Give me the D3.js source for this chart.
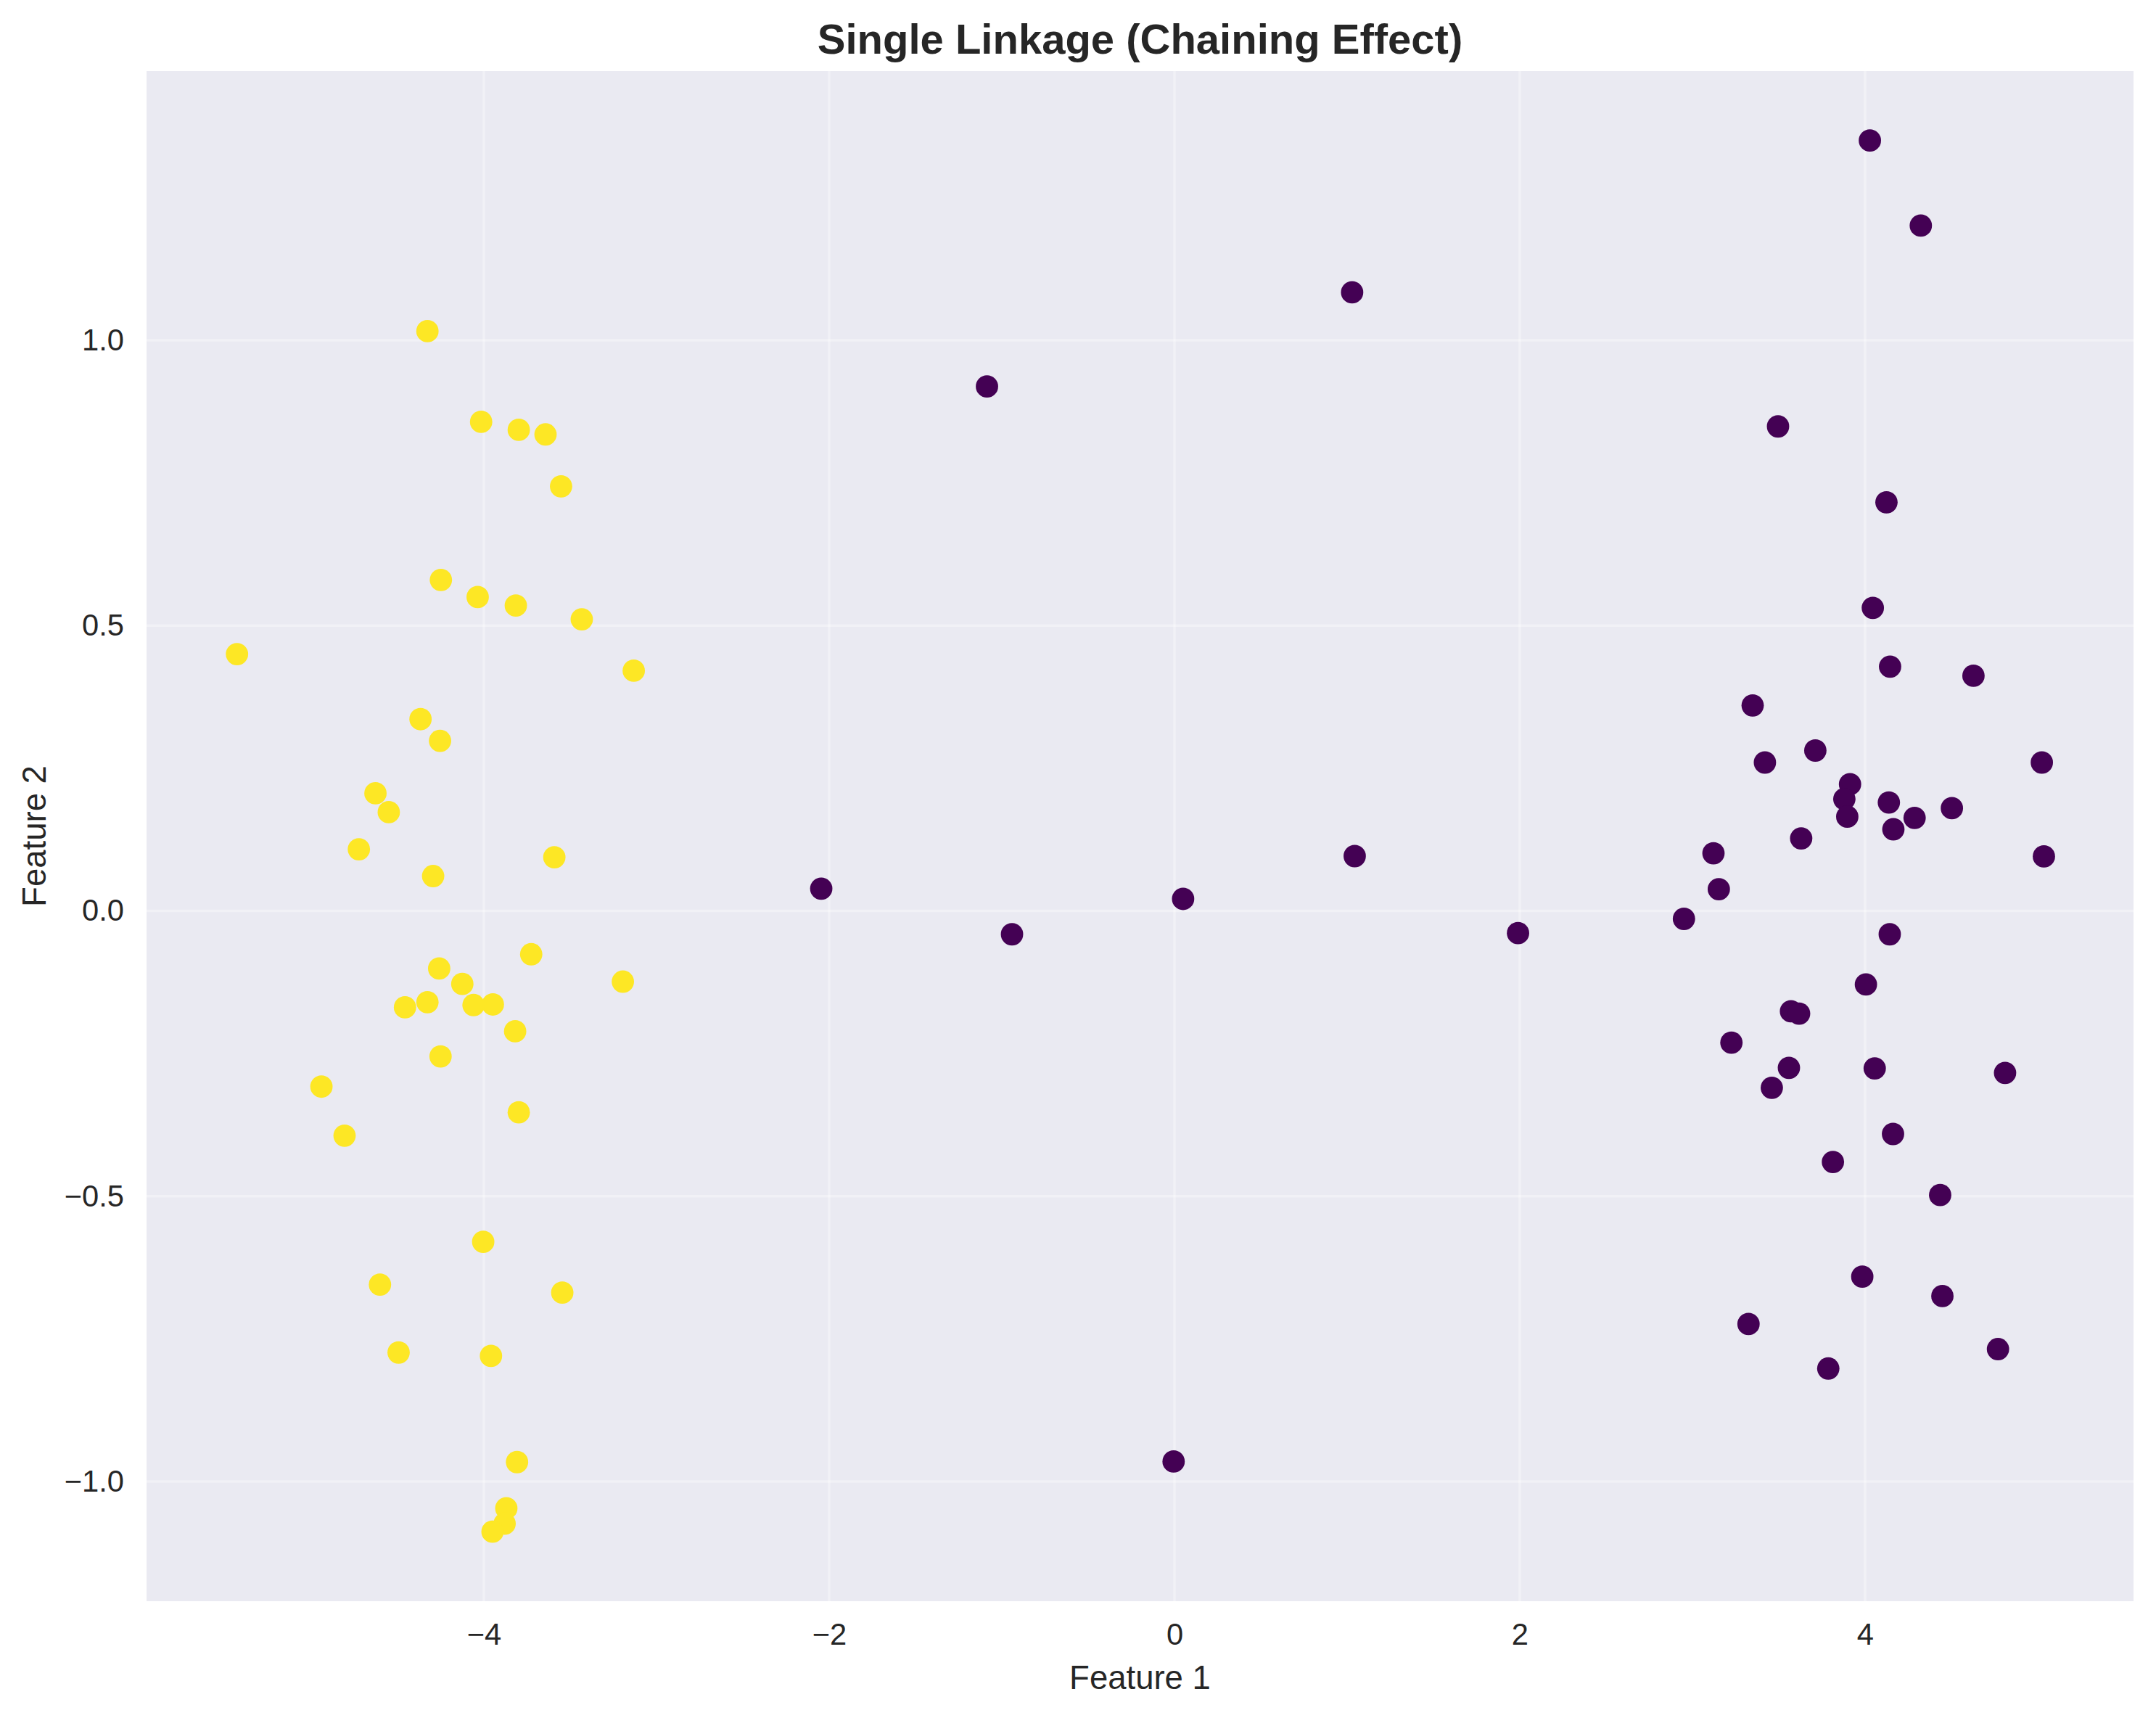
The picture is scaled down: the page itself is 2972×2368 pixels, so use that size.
<!DOCTYPE html>
<html>
<head>
<meta charset="utf-8">
<title>Single Linkage (Chaining Effect)</title>
<script src="https://cdn.jsdelivr.net/npm/d3@7/dist/d3.min.js"></script>
<style>
  body { margin: 0; background: #ffffff; }
  svg { display: block; }
  text { font-family: "Liberation Sans", Arial, sans-serif; fill: #262626; }
</style>
</head>
<body>
<script>
"use strict";

// cluster 1 (yellow) - left group
const yellowX = [-5.430, -4.327, -4.016, -3.798, -3.643, -3.553, -4.249, -4.036, -3.815, -3.433,
                 -3.132, -4.367, -4.254, -4.628, -4.551, -4.724, -4.294, -3.592, -3.726, -3.195,
                 -4.259, -4.125, -4.457, -4.327, -4.060, -3.948, -3.819, -4.251, -4.941, -4.807,
                 -3.798, -4.004, -4.602, -3.546, -4.494, -3.959, -3.808, -3.870, -3.880, -3.950];
const yellowY = [0.450, 1.016, 0.857, 0.843, 0.835, 0.744, 0.580, 0.550, 0.535, 0.511,
                 0.421, 0.336, 0.298, 0.206, 0.173, 0.108, 0.061, 0.094, -0.076, -0.124,
                 -0.101, -0.128, -0.169, -0.160, -0.165, -0.164, -0.211, -0.255, -0.308, -0.394,
                 -0.353, -0.580, -0.655, -0.669, -0.774, -0.780, -0.966, -1.047, -1.074, -1.088];

// cluster 0 (purple) - right group plus the chain
const purpleX = [1.029, -1.086, -2.046, -0.941, 0.050, 1.044, -0.005, 1.990,
                 4.028, 4.323, 3.496, 4.124, 4.045,
                 4.145, 4.628, 3.349, 3.712, 3.420, 5.024, 3.913, 3.880, 3.897, 4.138,
                 4.287, 4.503, 4.164, 3.630, 3.122, 5.036, 3.153, 2.951, 4.143, 4.005,
                 3.571, 3.618, 3.226,
                 3.559, 4.056, 4.811, 3.460, 4.162, 3.814, 4.435, 3.984, 4.448, 3.325, 4.770, 3.787];
const purpleY = [1.084, 0.919, 0.039, -0.041, 0.021, 0.096, -0.965, -0.039,
                 1.350, 1.201, 0.849, 0.716, 0.531,
                 0.428, 0.412, 0.360, 0.281, 0.260, 0.260, 0.222, 0.196, 0.165, 0.190,
                 0.163, 0.180, 0.143, 0.127, 0.101, 0.0955, 0.038, -0.014, -0.041, -0.129,
                 -0.176, -0.180, -0.231,
                 -0.275, -0.276, -0.284, -0.310, -0.391, -0.440, -0.498, -0.641, -0.675, -0.724, -0.768, -0.802];

const xTicks = [-4, -2, 0, 2, 4];
const yTicks = [-1.0, -0.5, 0.0, 0.5, 1.0];
const xLimits = [-5.954, 5.555];
const yLimits = [-1.2098, 1.4717];

const W = 2972, H = 2368;
const margin = { left: 202, right: W - 2941, top: 98, bottom: H - 2207 };
const fmtX = d => String(d).replace("-", "\u2212");
const fmtY = d => d3.format(".1f")(d).replace("-", "\u2212");

const svg = d3.select("body").append("svg")
  .attr("width", W)
  .attr("height", H);

const xScale = d3.scaleLinear().domain(xLimits).range([margin.left, W - margin.right]);
const yScale = d3.scaleLinear().domain(yLimits).range([H - margin.bottom, margin.top]);

// plot background
svg.append("rect")
  .attr("x", margin.left)
  .attr("y", margin.top)
  .attr("width", W - margin.left - margin.right)
  .attr("height", H - margin.top - margin.bottom)
  .attr("fill", "#eaeaf2");

// grid
const grid = svg.append("g").attr("stroke", "#ffffff").attr("stroke-opacity", 0.35).attr("stroke-width", 3.5);
grid.selectAll("line.gx").data(xTicks).enter().append("line")
  .attr("class", "gx")
  .attr("x1", d => xScale(d)).attr("x2", d => xScale(d))
  .attr("y1", margin.top).attr("y2", H - margin.bottom);
grid.selectAll("line.gy").data(yTicks).enter().append("line")
  .attr("class", "gy")
  .attr("y1", d => yScale(d)).attr("y2", d => yScale(d))
  .attr("x1", margin.left).attr("x2", W - margin.right);

// points
const purple = purpleX.map((x, i) => [x, purpleY[i]]);
const yellow = yellowX.map((x, i) => [x, yellowY[i]]);

svg.append("g").selectAll("circle")
  .data(purple)
  .enter()
  .append("circle")
  .attr("cx", d => xScale(d[0]))
  .attr("cy", d => yScale(d[1]))
  .attr("r", 15.4)
  .attr("fill", "#440154");

svg.append("g").selectAll("circle")
  .data(yellow)
  .enter()
  .append("circle")
  .attr("cx", d => xScale(d[0]))
  .attr("cy", d => yScale(d[1]))
  .attr("r", 15.4)
  .attr("fill", "#fde725");

// axes
const xAxis = d3.axisBottom(xScale).tickValues(xTicks).tickFormat(fmtX).tickSize(0).tickPadding(30);
const yAxis = d3.axisLeft(yScale).tickValues(yTicks).tickFormat(fmtY).tickSize(0).tickPadding(31);

const gx = svg.append("g")
  .attr("transform", "translate(0," + (H - margin.bottom) + ")")
  .call(xAxis);
const gy = svg.append("g")
  .attr("transform", "translate(" + margin.left + ",0)")
  .call(yAxis);

[gx, gy].forEach(g => {
  g.select(".domain").remove();
  g.selectAll("text")
    .attr("font-family", "Liberation Sans, Arial, sans-serif")
    .attr("font-size", 41.7)
    .attr("fill", "#262626");
});

// labels
svg.append("text")
  .attr("x", (margin.left + W - margin.right) / 2)
  .attr("y", 74)
  .attr("text-anchor", "middle")
  .attr("font-size", 58)
  .attr("font-weight", "bold")
  .text("Single Linkage (Chaining Effect)");

svg.append("text")
  .attr("x", (margin.left + W - margin.right) / 2)
  .attr("y", 2328)
  .attr("text-anchor", "middle")
  .attr("font-size", 45.5)
  .text("Feature 1");

svg.append("text")
  .attr("transform", "translate(63," + ((margin.top + H - margin.bottom) / 2) + ") rotate(-90)")
  .attr("text-anchor", "middle")
  .attr("font-size", 45.5)
  .text("Feature 2");
</script>
</body>
</html>
